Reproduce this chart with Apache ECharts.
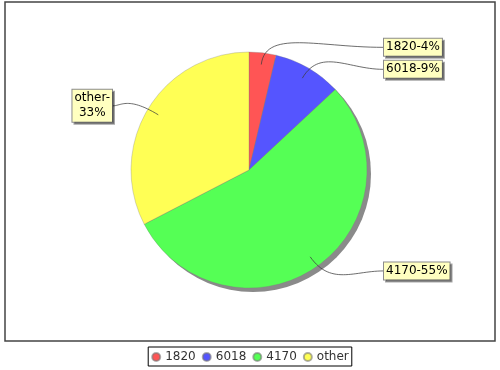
<!DOCTYPE html>
<html>
<head>
<meta charset="utf-8">
<script src="https://cdn.jsdelivr.net/npm/echarts@6/dist/echarts.min.js"></script>
<style>
html,body{margin:0;padding:0;background:#fff;}
#chart{width:500px;height:370px;}
</style>
</head>
<body>
<div id="chart"></div>
<script>
// ---- data ----
var categories = ['1820', '6018', '4170', 'other'];
var values = [3.7, 9.4, 54.5, 32.7];      // share of the pie (percent)
var colors = ['#FF5555', '#5555FF', '#55FF55', '#FFFF55'];

// ---- layout constants ----
var CX = 249, CY = 170, R = 118;
var LINK_R = 123.5;          // radius where label rows are anchored
var ANCHOR_F = 0.9;          // label line starts inside the slice
var RIGHT_X = 383, LEFT_X = 113;
var MIN_GAP = 22;

var total = values.reduce(function (a, b) { return a + b; }, 0);
var acc = 0;
var geo = values.map(function (v) {
  var m = (acc + v / 2) / total * Math.PI * 2;
  acc += v;
  return { ux: Math.sin(m), uy: -Math.cos(m) };
});
var labelY = geo.map(function (g) { return CY + g.uy * LINK_R; });
function spread(idx) {
  idx.sort(function (a, b) { return labelY[a] - labelY[b]; });
  for (var k = 1; k < idx.length; k++) {
    if (labelY[idx[k]] - labelY[idx[k - 1]] < MIN_GAP) labelY[idx[k]] = labelY[idx[k - 1]] + MIN_GAP;
  }
}
var rightIdx = [], leftIdx = [];
geo.forEach(function (g, i) { (g.ux >= 0 ? rightIdx : leftIdx).push(i); });
spread(rightIdx); spread(leftIdx);

function cubic(p0, p1, p2, p3, n) {
  var pts = [];
  for (var k = 0; k <= n; k++) {
    var t = k / n, s = 1 - t;
    pts.push([
      s * s * s * p0[0] + 3 * s * s * t * p1[0] + 3 * s * t * t * p2[0] + t * t * t * p3[0],
      s * s * s * p0[1] + 3 * s * s * t * p1[1] + 3 * s * t * t * p2[1] + t * t * t * p3[1]
    ]);
  }
  return pts;
}

var pieData = categories.map(function (c, i) { return { name: c, value: values[i] }; });

var chart = echarts.init(document.getElementById('chart'), null, { renderer: 'canvas' });

var option = {
  animation: false,
  backgroundColor: '#ffffff',
  color: colors,
  textStyle: { fontFamily: 'DejaVu Sans' },
  graphic: [{
    type: 'rect',
    shape: { x: 5, y: 2, width: 490, height: 339 },
    style: { fill: 'none', stroke: '#444444', lineWidth: 1.5 },
    z: -10, silent: true
  }],
  legend: {
    data: categories,
    left: 'center',
    top: 347,
    icon: 'circle',
    itemWidth: 8,
    itemHeight: 8,
    itemGap: 6,
    padding: [4, 3, 3, 3],
    borderColor: '#000000',
    borderWidth: 1,
    textStyle: { fontFamily: 'DejaVu Sans', fontSize: 12, color: '#333333' }
  },
  series: [
    {
      // shadow disc below the pie
      type: 'pie',
      silent: true,
      center: [CX + 4, CY + 4],
      radius: R,
      z: 1,
      label: { show: false },
      labelLine: { show: false },
      itemStyle: { color: '#8a8a8a' },
      data: [{ name: '__shadow', value: 1 }]
    },
    {
      // the pie itself
      type: 'pie',
      center: [CX, CY],
      radius: R,
      startAngle: 90,
      clockwise: true,
      z: 2,
      itemStyle: { borderColor: 'rgba(120,120,120,0.6)', borderWidth: 0.5 },
      label: { show: false },
      labelLine: { show: false },
      data: pieData
    },
    {
      // transparent overlay carrying labels and link lines above the slices
      type: 'pie',
      silent: true,
      center: [CX, CY],
      radius: R,
      startAngle: 90,
      clockwise: true,
      z: 3,
      itemStyle: { color: 'rgba(0,0,0,0)', borderWidth: 0 },
      label: {
        show: true,
        position: 'outside',
        formatter: function (p) {
          var pct = Math.round(p.value) + '%';
          return geo[p.dataIndex].ux < 0 ? p.name + '-\n' + pct : p.name + '-' + pct;
        },
        fontFamily: 'DejaVu Sans',
        fontSize: 12,
        lineHeight: 15,
        color: '#000000',
        align: 'center',
        backgroundColor: '#FFFFC0',
        borderColor: '#8c8c8c',
        borderWidth: 1,
        padding: [1, 2, 1, 2],
        shadowColor: 'rgba(0,0,0,0.35)',
        shadowOffsetX: 2,
        shadowOffsetY: 2,
        shadowBlur: 0
      },
      labelLine: {
        show: true,
        showAbove: true,
        smooth: false,
        length: 5,
        length2: 20,
        lineStyle: { color: '#3c3c3c', width: 0.75 }
      },
      labelLayout: function (p) {
        var i = p.dataIndex;
        var g = geo[i];
        var y = labelY[i];
        var right = g.ux >= 0;
        var w = p.labelRect.width;
        var a = [CX + g.ux * R * ANCHOR_F, CY + g.uy * R * ANCHOR_F];
        var c1 = [CX + g.ux * R * 1.2, CY + g.uy * R * 1.2];
        var lx = right ? RIGHT_X : LEFT_X;
        var c2 = [c1[0] + (lx - c1[0]) * 0.45, y];
        var cx = right ? lx + w / 2 : lx - w / 2;
        return {
          x: cx,
          y: y,
          align: 'center',
          verticalAlign: 'middle',
          labelLinePoints: cubic(a, c1, c2, [lx, y], 30)
        };
      },
      data: pieData
    }
  ]
};
chart.setOption(option);
</script>
</body>
</html>
